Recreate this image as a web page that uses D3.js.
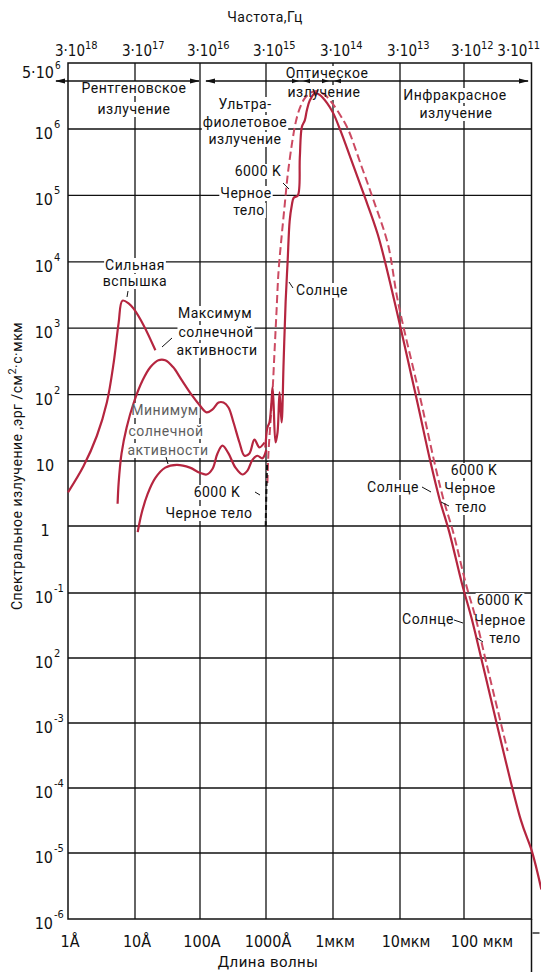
<!DOCTYPE html>
<html>
<head>
<meta charset="utf-8">
<script src="https://cdn.jsdelivr.net/npm/d3@7"></script>
<style>
  body { margin: 0; background: #fff; }
  text { font-family: Roboto, "Liberation Sans", sans-serif; fill: #111; }
  .tick { font-family: "Liberation Sans Narrow", "DejaVu Sans Condensed", Roboto, sans-serif; }
</style>
</head>
<body>
<div id="chart"></div>
<script>
// wavelength in angstrom, flux in erg / (cm2 s mkm)
var waveTicks = [1, 10, 100, 1000, 1e4, 1e5, 1e6, 1e7];
var waveLabels = ["1Å", "10Å", "100A", "1000Å", "1мкм", "10мкм", "100 мкм"];
var freqExp = ["18", "17", "16", "15", "14", "13", "12", "11"]; // 3·10^n Hz
var fluxTicks = [1e6, 1e5, 1e4, 1e3, 1e2, 10, 1, 1e-1, 1e-2, 1e-3, 1e-4, 1e-5, 1e-6];
var fluxBase = ["10", "10", "10", "10", "10", "10", "1", "10", "10", "10", "10", "10", "10"];
var fluxExp = ["6", "5", "4", "3", "2", "", "", "-1", "2", "-3", "-4", "-5", "-6"];

// strong flare
var flare = [[1.0, 3.3], [1.7, 8.3], [2.7, 24], [3.8, 76], [4.8, 300], [5.7, 1200], [6.5, 2600],
  [8.1, 2350], [9.6, 1950], [13.6, 1100], [20.6, 465]];
// solar activity maximum
var solarMax = [[5.5, 2.2], [5.7, 4.6], [6.3, 13], [7.5, 32], [9.6, 76], [13.1, 164], [17.3, 260],
  [22.9, 330], [29.2, 330], [38.5, 260], [52.7, 164], [75, 98], [99, 69], [126, 54], [155, 60],
  [191, 76], [227, 76], [270, 64], [322, 38], [396, 19], [472, 12], [561, 13], [668, 21],
  [795, 16], [946, 19]];
// solar activity minimum
var solarMin = [[11, 0.81], [12.7, 1.6], [15.6, 3.1], [20.6, 5.5], [29.2, 7.9], [44, 8.7], [70, 7.9],
  [99, 6.6], [126, 6.2], [155, 7.6], [184, 13], [219, 17], [270, 13], [345, 7.9], [440, 6.2],
  [524, 7.1], [623, 10.4], [741, 12], [883, 11], [1010, 14.7]];
// the Sun
var sun = [[979, 16], [1050, 32], [1125, 38], [1207, 76], [1250, 129], [1295, 76], [1388, 19],
  [1487, 27], [1593, 108], [1710, 38], [1832, 310], [1963, 2500], [2104, 10200], [2254, 41000],
  [2421, 70000], [2594, 92000], [2980, 99000], [3197, 374000], [3427, 1.07e6], [3800, 1.36e6],
  [4074, 1.93e6], [4530, 2.74e6], [5380, 3.5e6], [6410, 3.27e6], [8170, 2.47e6], [10070, 1.74e6],
  [12850, 9.6e5], [18200, 3.7e5], [28600, 1.06e5], [46500, 26000], [78400, 3200], [187000, 76],
  [294000, 10.4], [416000, 2.56], [589000, 0.81], [926000, 0.14], [1.31e6, 0.039],
  [1.86e6, 0.0086], [6.96e6, 3.2e-5], [1.02e7, 1.04e-5], [1.4e7, 2.8e-6]];
// black body 6000 K
var blackBody = [[1050, 4.6], [1087, 13], [1165, 38], [1250, 108], [1340, 440], [1436, 1800],
  [1539, 7200], [1710, 24000], [1897, 70000], [2104, 2e5], [2421, 5.7e5], [2780, 1.27e6],
  [3197, 2.07e6], [3800, 2.94e6], [4850, 3.63e6], [5970, 3.76e6], [7620, 3.27e6], [9720, 2.47e6],
  [12850, 1.62e6], [17000, 9.6e5], [25800, 3.0e5], [40500, 83000], [65900, 18500], [93300, 2500],
  [215000, 76], [338000, 10.4], [478000, 2.56], [677000, 0.81], [1.06e6, 0.14], [1.51e6, 0.039],
  [2.13e6, 0.0086], [4.43e6, 3.7e-4]];
var blackBodyLow = [[990, 1.0], [1010, 3], [1040, 10]];

var W = 541, H = 972;
// note: "top" is taken by window.top, so the frame edges get their own names
var frameL = 68, frameR = 531.5, frameT = 63, frameB = 919;

var svg = d3.select("#chart").append("svg")
  .attr("width", W)
  .attr("height", H);

// the printed grid is slightly uneven, so the scales are piecewise
var x = d3.scaleLog().domain(waveTicks).range([frameL, 135, 200, 266, 333, 400, 464, frameR]);
var y = d3.scaleLog().domain([1e-6, 1e-5, 1e-1, 1, 10, 1e6, 1e7]).range([frameB, 853, 593, 526, 461, 129, frameT]);

var gGrid = svg.append("g");
var gBox = svg.append("g");
var gFrame = svg.append("g");
var gCurve = svg.append("g");
var gText = svg.append("g");

// grid
gGrid.selectAll(".vline")
  .data(waveTicks.slice(1, 7))
  .enter().append("line")
  .attr("x1", function(d) { return x(d); })
  .attr("x2", function(d) { return x(d); })
  .attr("y1", frameT)
  .attr("y2", frameB)
  .style("stroke", "#111")
  .style("stroke-width", 1.3);

gGrid.selectAll(".hline")
  .data(fluxTicks.slice(0, 12))
  .enter().append("line")
  .attr("x1", frameL)
  .attr("x2", frameR)
  .attr("y1", function(d) { return y(d); })
  .attr("y2", function(d) { return y(d); })
  .style("stroke", "#111")
  .style("stroke-width", 1.3);

// frame
gFrame.append("rect")
  .attr("x", frameL).attr("y", frameT)
  .attr("width", frameR - frameL).attr("height", frameB - frameT)
  .style("fill", "none")
  .style("stroke", "#111")
  .style("stroke-width", 1.5);
gFrame.append("line")
  .attr("x1", frameR).attr("x2", frameR).attr("y1", frameB).attr("y2", H)
  .style("stroke", "#111").style("stroke-width", 1.5);
gFrame.append("line")
  .attr("x1", frameR + 1).attr("x2", frameR + 8).attr("y1", 933).attr("y2", 933)
  .style("stroke", "#111").style("stroke-width", 1.3);

// range arrows
var arrowY = 81;
function arrowLine(x1, x2) {
  gFrame.append("line")
    .attr("x1", x1).attr("x2", x2).attr("y1", arrowY).attr("y2", arrowY)
    .style("stroke", "#111").style("stroke-width", 1.3);
}
function head(tip, dir, len, half) {
  gFrame.append("path")
    .attr("d", "M" + tip + "," + arrowY + "L" + (tip - dir * len) + "," + (arrowY - half) +
      "L" + (tip - dir * len) + "," + (arrowY + half) + "Z")
    .style("fill", "#111");
}
arrowLine(56, 199);
head(55, -1, 10, 2.6);
head(200, 1, 10, 2.6);
arrowLine(206, 528);
head(205, -1, 10, 2.6);
head(529, 1, 10, 2.6);
head(299, 1, 7, 2.2);
head(303, -1, 7, 2.2);
head(329, 1, 7, 2.2);
head(334, -1, 7, 2.2);

// curves
var line = d3.line()
  .x(function(d) { return x(d[0]); })
  .y(function(d) { return y(d[1]); })
  .curve(d3.curveCatmullRom.alpha(0.5));

var solid = "#b5253f", dashed = "#cc4a62";

gCurve.append("path").datum(blackBody)
  .attr("d", line)
  .style("fill", "none").style("stroke", dashed).style("stroke-width", 2)
  .style("stroke-dasharray", "8,4");
gCurve.append("path").datum(blackBodyLow)
  .attr("d", line)
  .style("fill", "none").style("stroke", "#111").style("stroke-width", 2)
  .style("stroke-dasharray", "5,3");

[flare, solarMax, solarMin, sun].forEach(function(s) {
  gCurve.append("path").datum(s)
    .attr("d", line)
    .style("fill", "none").style("stroke", solid).style("stroke-width", 2.2)
    .style("stroke-linejoin", "round");
});

// text with a white knock-out behind it, as in the print
function label(t, px, py, opts) {
  opts = opts || {};
  var el = gText.append("text")
    .attr("x", px).attr("y", py)
    .attr("text-anchor", opts.anchor || "middle")
    .style("font-size", (opts.size || 14) + "px")
    .style("letter-spacing", "0.5px")
    .text(t);
  if (opts.color) el.style("fill", opts.color);
  if (opts.box !== false) {
    var b = el.node().getBBox();
    gBox.append("rect")
      .attr("x", b.x - 1).attr("y", b.y + 1)
      .attr("width", b.width + 2).attr("height", b.height - 1)
      .style("fill", "#fff");
  }
  return el;
}
function leader(x1, y1, x2, y2) {
  gText.append("line")
    .attr("x1", x1).attr("y1", y1).attr("x2", x2).attr("y2", y2)
    .style("stroke", "#111").style("stroke-width", 1);
}

label("Рентгеновское", 134, 93);
label("излучение", 134, 114);
label("Оптическое", 327, 78);
label("излучение", 324, 97);
label("Ультра-", 245, 109);
label("фиолетовое", 245, 127);
label("излучение", 245, 144);
label("Инфракрасное", 455, 100);
label("излучение", 456, 118);

label("6000 K", 258, 176);
label("Черное", 246, 198);
label("тело", 249, 215);
leader(283, 183, 289, 189);

label("Солнце", 322, 295);
leader(293, 288, 289, 282);

label("Сильная", 135, 270);
label("вспышка", 135, 286);
leader(128, 291, 127, 297);

label("Максимум", 215, 318);
label("солнечной", 216, 337);
label("активности", 217, 355);
leader(162, 347, 172, 338);

var grey = "#5e5e5e";
label("Минимум", 165, 415, { color: grey });
label("солнечной", 166, 436, { color: grey });
label("активности", 168, 455, { color: grey });
leader(166, 457, 168, 464);

label("6000 K", 217, 497);
label("Черное тело", 209, 518);
leader(255, 492, 260, 495);

label("6000 K", 474, 475);
label("Солнце", 393, 492);
label("Черное", 470, 493);
label("тело", 471, 512);
leader(422, 487, 431, 492);
leader(441, 502, 449, 506);

label("6000 K", 500, 605);
label("Солнце", 428, 624);
label("Черное", 500, 625);
label("тело", 505, 643);
leader(454, 620, 463, 623);
leader(477, 638, 483, 642);

// axis titles
label("Частота,Гц", 265, 22, { box: false });
label("Длина волны", 268, 967, { box: false, size: 15 });

var yTitle = gText.append("text")
  .attr("transform", "translate(22,466) rotate(-90)")
  .attr("text-anchor", "middle")
  .style("font-size", "14px")
  .style("letter-spacing", "0.5px");
yTitle.append("tspan").text("Спектральное излучение ,эрг  /см");
yTitle.append("tspan").attr("dy", -6).style("font-size", "11px").text("2");
yTitle.append("tspan").attr("dy", 6).text("·с·мкм");

// bottom wavelength labels
gText.selectAll(".wl")
  .data(waveLabels)
  .enter().append("text")
  .attr("class", "tick")
  .attr("x", function(d, i) { return x(waveTicks[i]) + (i === 6 ? 18 : i === 5 ? 6 : 2); })
  .attr("y", 947)
  .attr("text-anchor", "middle")
  .style("font-size", "16px")
  .text(function(d) { return d; });

// top frequency labels
freqExp.forEach(function(e, i) {
  var t = gText.append("text").attr("class", "tick").attr("y", 56).style("font-size", "15px");
  var base = t.append("tspan").text("3·10");
  t.append("tspan").attr("dy", -7).style("font-size", "11px").text(e);
  var bw = base.node().getComputedTextLength();
  var tw = t.node().getComputedTextLength();
  var px = x(waveTicks[i]) + 2 - bw / 2;
  if (px + tw > W - 1) px = W - 1 - tw;
  t.attr("x", px);
});

// left flux labels
fluxTicks.forEach(function(v, i) {
  var py = y(v);
  if (fluxExp[i] === "") {
    gText.append("text").attr("class", "tick")
      .attr("x", 45).attr("y", py + 10)
      .attr("text-anchor", "middle")
      .style("font-size", "16px")
      .text(fluxBase[i]);
  } else {
    gText.append("text").attr("class", "tick")
      .attr("x", 53).attr("y", py + 10)
      .attr("text-anchor", "end")
      .style("font-size", "16px")
      .text(fluxBase[i]);
    gText.append("text").attr("class", "tick")
      .attr("x", 54).attr("y", py - 1)
      .style("font-size", "11px")
      .text(fluxExp[i]);
  }
});
gText.append("text").attr("class", "tick")
  .attr("x", 54).attr("y", frameT + 15)
  .attr("text-anchor", "end")
  .style("font-size", "16px")
  .text("5·10");
gText.append("text").attr("class", "tick")
  .attr("x", 55).attr("y", frameT + 6)
  .style("font-size", "10px")
  .text("6");
</script>
</body>
</html>
